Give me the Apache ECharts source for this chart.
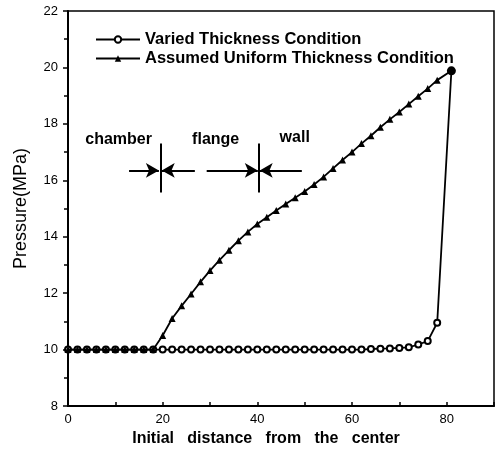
<!DOCTYPE html>
<html>
<head>
<meta charset="utf-8">
<script src="https://cdn.jsdelivr.net/npm/echarts@6/dist/echarts.min.js"></script>
<style>
  html, body { margin: 0; padding: 0; background: #fff; }
  #chart { width: 497px; height: 464px; }
</style>
</head>
<body>
<div id="chart"></div>
<script>
// initial distance (x), one point every 2 units, last point is the common end
var distance = [0, 2, 4, 6, 8, 10, 12, 14, 16, 18, 20, 22, 24, 26, 28, 30, 32, 34, 36, 38,
    40, 42, 44, 46, 48, 50, 52, 54, 56, 58, 60, 62, 64, 66, 68, 70, 72, 74, 76, 78, 81];

var variedPressure = [10, 10, 10, 10, 10, 10, 10, 10, 10, 10, 10, 10, 10, 10, 10, 10, 10, 10, 10, 10,
    10, 10, 10, 10, 10, 10, 10, 10, 10, 10, 10, 10, 10.02, 10.03, 10.04, 10.06, 10.08, 10.18, 10.3, 10.95, 19.88];

var uniformPressure = [10, 10, 10, 10, 10, 10, 10, 10, 10, 10, 10.5, 11.1, 11.55, 11.97, 12.4, 12.8, 13.17, 13.52, 13.86, 14.17,
    14.45, 14.69, 14.93, 15.16, 15.38, 15.6, 15.85, 16.12, 16.42, 16.72, 17.0, 17.3, 17.58, 17.88, 18.16, 18.42, 18.7, 18.98, 19.25, 19.55, 19.88];

var seriesNames = ['Varied Thickness Condition', 'Assumed Uniform Thickness Condition'];
var xTickLabels = ['0', '20', '40', '60', '80'];
var yTickLabels = ['8', '10', '12', '14', '16', '18', '20', '22'];

// zone annotations
var zoneLabels = [['chamber', 10.7, 17.45], ['flange', 31.2, 17.45], ['wall', 47.9, 17.5]];
var zoneBounds = [19.5, 40.3];
var zoneArrows = [[12.9, 19.2], [26.8, 19.8], [29.3, 40.1], [49.4, 40.5]];

var font = '"Liberation Sans", Arial, sans-serif';

var toPoints = function (ys, lastOpts) {
    var pts = [];
    for (var i = 0; i < distance.length; i++) {
        pts.push({ value: [distance[i], ys[i]] });
    }
    if (lastOpts) {
        for (var k in lastOpts) pts[pts.length - 1][k] = lastOpts[k];
    }
    return pts;
};

var lineData = [];
zoneBounds.forEach(function (x) {
    lineData.push([{ coord: [x, 15.57], symbol: 'none' }, { coord: [x, 17.3], symbol: 'none' }]);
});
zoneArrows.forEach(function (a) {
    lineData.push([{ coord: [a[0], 16.35], symbol: 'none' }, { coord: [a[1], 16.35], symbol: 'arrow' }]);
});

var myChart = echarts.init(document.getElementById('chart'));
var option = {
    animation: false,
    backgroundColor: '#fff',
    textStyle: { fontFamily: font, color: '#000' },
    grid: {
        left: 68, right: 3, top: 11, bottom: 58,
        show: true, borderColor: '#000', borderWidth: 1.5
    },
    legend: {
        data: seriesNames,
        orient: 'vertical',
        left: 90, top: 26,
        itemWidth: 44, itemHeight: 8, itemGap: 2,
        textStyle: { fontSize: 16.5, fontWeight: 'bold', color: '#000', fontFamily: font }
    },
    xAxis: {
        type: 'value',
        min: 0, max: 90, interval: 10,
        name: 'Initial   distance   from   the   center',
        nameLocation: 'middle', nameGap: 24,
        nameTextStyle: { fontSize: 16, fontWeight: 'bold', color: '#000', padding: [0, 30, 0, 0] },
        axisLine: { lineStyle: { color: '#000', width: 2 } },
        axisTick: { inside: true, length: 4, lineStyle: { color: '#000', width: 1.5 } },
        axisLabel: {
            fontSize: 13, color: '#000', margin: 7,
            formatter: function (v) { return xTickLabels.indexOf(String(v)) >= 0 ? String(v) : ''; }
        },
        splitLine: { show: false }
    },
    yAxis: {
        type: 'value',
        min: 8, max: 22, interval: 2,
        name: 'Pressure(MPa)',
        nameLocation: 'middle', nameGap: 38,
        nameTextStyle: { fontSize: 18, color: '#000' },
        axisLine: { lineStyle: { color: '#000', width: 2 } },
        axisTick: { length: 5, lineStyle: { color: '#000', width: 1.5 } },
        minorTick: { show: true, splitNumber: 2, length: 4, lineStyle: { color: '#000', width: 1.5 } },
        axisLabel: {
            fontSize: 13, color: '#000', margin: 10,
            formatter: function (v) { return yTickLabels.indexOf(String(v)) >= 0 ? String(v) : ''; }
        },
        splitLine: { show: false }
    },
    series: [{
        name: seriesNames[0],
        type: 'line',
        symbol: 'emptyCircle',
        symbolSize: 6,
        lineStyle: { color: '#000', width: 1.8 },
        itemStyle: { color: '#000', borderColor: '#000', borderWidth: 1.5 },
        z: 2,
        data: toPoints(variedPressure, { symbol: 'none' })
    }, {
        name: seriesNames[1],
        type: 'line',
        symbol: 'triangle',
        symbolSize: 7,
        lineStyle: { color: '#000', width: 1.8 },
        itemStyle: { color: '#000' },
        z: 3,
        data: toPoints(uniformPressure, { symbol: 'circle', symbolSize: 9 })
    }, {
        name: 'zones',
        type: 'line',
        data: [],
        silent: true,
        markLine: {
            silent: true,
            symbolSize: [11, 13],
            label: { show: false },
            lineStyle: { color: '#000', width: 2, type: 'solid' },
            data: lineData
        },
        markPoint: {
            silent: true,
            symbol: 'circle',
            symbolSize: 0,
            label: {
                show: true, position: 'inside', color: '#000',
                fontSize: 16, fontWeight: 'bold', fontFamily: font,
                formatter: function (p) { return p.name; }
            },
            data: zoneLabels.map(function (z) {
                return { name: z[0], coord: [z[1], z[2]] };
            })
        }
    }]
};
myChart.setOption(option);
</script>
</body>
</html>
